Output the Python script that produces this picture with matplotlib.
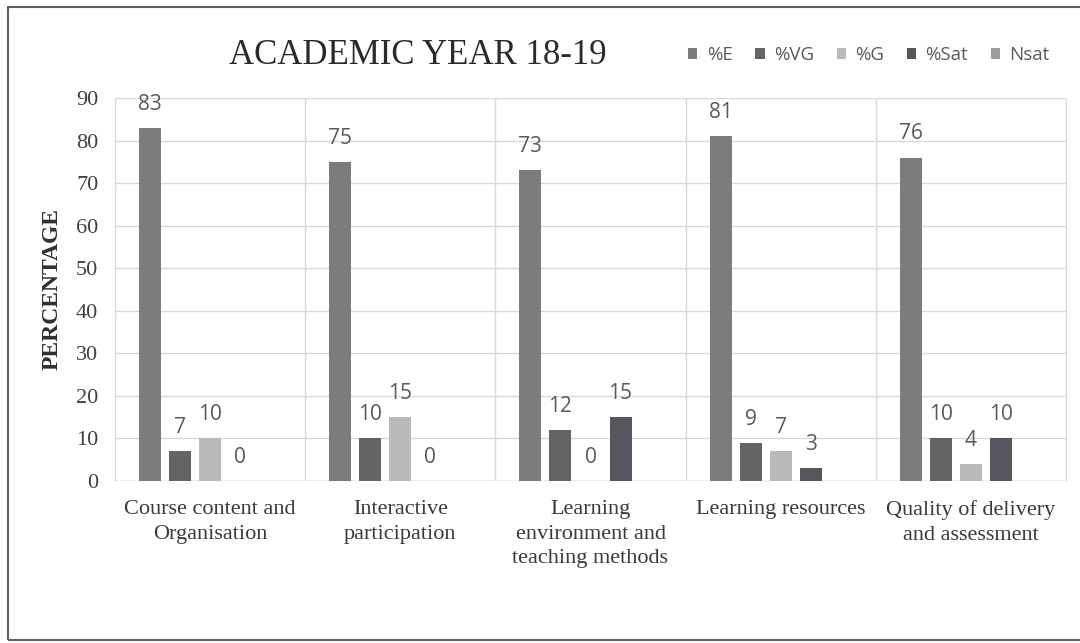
import numpy as np
import matplotlib
matplotlib.use("Agg")
from matplotlib import pyplot as plt
import matplotlib.patches as patches

categories = ["Course content and\nOrganisation",
              "Interactive\nparticipation",
              "Learning\nenvironment and\nteaching methods",
              "Learning resources",
              "Quality of delivery\nand assessment"]
series = ["%E", "%VG", "%G", "%Sat", "Nsat"]
pct_e = [83, 75, 73, 81, 76]
pct_vg = [7, 10, 12, 9, 10]
pct_g = [10, 15, 0, 7, 4]
pct_sat = [0, 0, 15, 3, 10]
nsat = [np.nan, np.nan, np.nan, np.nan, np.nan]

colors = ["#7c7c7c", "#646464", "#bababa", "#56565e", "#9c9c9c"]
valores = [pct_e, pct_vg, pct_g, pct_sat, nsat]

fig = plt.figure(figsize=(10.8, 6.43), dpi=100)
ax = fig.add_axes([115/1080, 1-481/643, (1066-115)/1080, (481-98)/643])

x = np.arange(len(categories))
larg = 0.116
passo = 0.158
for i, (nome, vals) in enumerate(zip(series, valores)):
    pos = x + (i - 2) * passo
    v = np.array(vals, dtype=float)
    ax.bar(pos, np.nan_to_num(v), width=larg, color=colors[i], label=nome, zorder=3)
    for p, val in zip(pos, v):
        if np.isnan(val):
            continue
        ax.annotate(f"{int(val)}", (p, val), xytext=(0, 17), textcoords="offset points",
                    ha="center", va="center", fontsize=15, color="#595959", family="Open Sans")

ax.set_xlim(-0.5, len(categories) - 0.5)
ax.set_ylim(0, 90)
ax.set_yticks(range(0, 91, 10))
ax.set_xticks(x)
ax.set_xticklabels(categories, family="Liberation Serif", fontsize=16, color="#3a3a3a",
                   linespacing=1.38, va="top")
ax.set_xticks(np.arange(-0.5, len(categories)), minor=True)
ax.tick_params(axis="x", which="both", length=0, pad=14)
ax.tick_params(axis="y", length=0, pad=12)
for t in ax.get_yticklabels():
    t.set_family("Liberation Serif")
    t.set_fontsize(16)
    t.set_color("#404040")
ax.grid(axis="y", color="#d9d9d9", linewidth=1, zorder=0)
ax.grid(axis="x", which="minor", color="#d9d9d9", linewidth=1, zorder=0)
for s in ax.spines.values():
    s.set_visible(False)
ax.spines["right"].set_visible(True)
ax.spines["right"].set_color("#d9d9d9")
ax.spines["left"].set_visible(True)
ax.spines["left"].set_color("#d9d9d9")
ax.axhline(0, color="#d0d0d0", linewidth=1, zorder=2)

ax.set_ylabel("PERCENTAGE", family="Liberation Serif", fontsize=17, fontweight="bold",
              color="#303030", labelpad=10)

fig.text(418/1080, 1-55/643, "ACADEMIC YEAR 18-19", ha="center", va="center",
         family="Liberation Serif", fontsize=25, color="#2a2a2a")

leg = fig.legend(loc="center left", bbox_to_anchor=(688/1080, 1-55/643), ncol=5, frameon=False,
                 handlelength=0.5, handleheight=0.5, handletextpad=0.5, columnspacing=1.2,
                 borderaxespad=0, borderpad=0,
                 prop={"family": "Open Sans", "size": 13.5})
for t in leg.get_texts():
    t.set_color("#595959")

fig.patches.append(patches.Rectangle((8/1080, 3/643), 1.1, 1 - 10/643, transform=fig.transFigure,
                                     fill=False, edgecolor="#606060", linewidth=1.5))

plt.savefig("out.png", dpi=100)
